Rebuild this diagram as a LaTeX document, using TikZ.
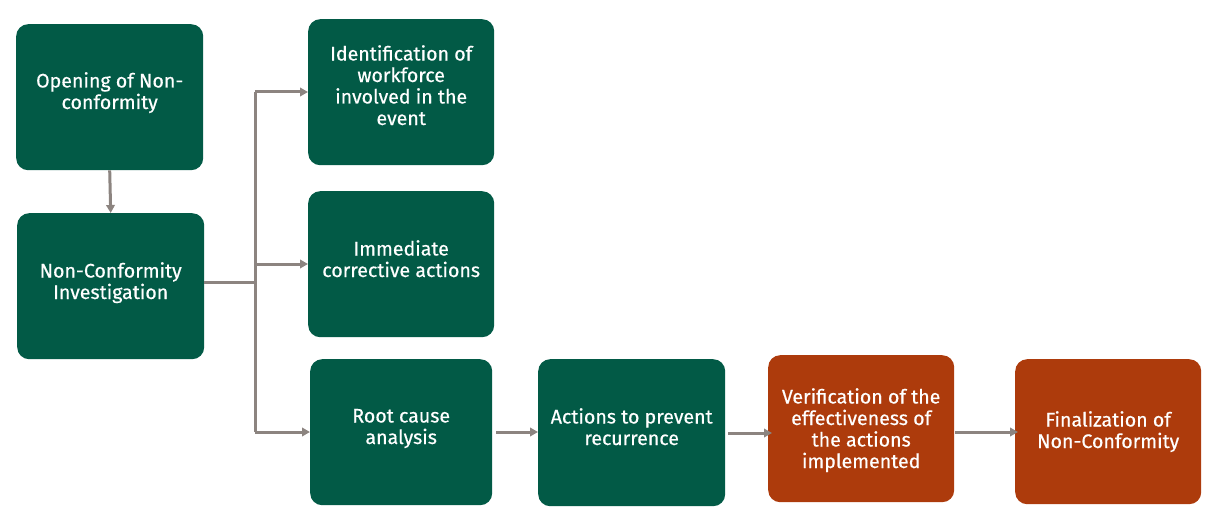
\documentclass[tikz,border=0pt]{standalone}
\usepackage{fontspec}
\setmainfont{Fira Sans}[FakeBold=0.5]
\usetikzlibrary{arrows.meta}
\definecolor{boxgreen}{HTML}{025A46}
\definecolor{boxorange}{HTML}{AD3B0C}
\definecolor{linegray}{HTML}{8C8480}
\newcommand\boxlines[1]{\parbox[b]{180pt}{\centering #1}}
\tikzset{
  txt/.style={text=white, inner sep=0pt, anchor=base,
    font=\fontsize{19.6}{21.5}\selectfont},
  gbox/.style={fill=boxgreen, draw=none, rounded corners=12pt, inner sep=0pt, anchor=north west},
  obox/.style={gbox, fill=boxorange},
  conn/.style={draw=linegray, line width=3pt, -{Triangle[length=8pt,width=8.5pt]}},
  plain/.style={draw=linegray, line width=3pt},
}
\begin{document}
\begin{tikzpicture}[x=1pt,y=-1pt]
\useasboundingbox (0,0) rectangle (1215,524);
% boxes
\node[gbox, minimum width=187pt, minimum height=146pt] (open) at (16,24) {};
\node[gbox, minimum width=187pt, minimum height=146pt] (inv) at (17,213) {};
\node[gbox, minimum width=186pt, minimum height=146pt] (ident) at (308,19) {};
\node[gbox, minimum width=186pt, minimum height=146pt] (imm) at (308,191) {};
\node[gbox, minimum width=182pt, minimum height=146pt] (root) at (310,359) {};
\node[gbox, minimum width=187pt, minimum height=147pt] (prev) at (538,359) {};
\node[obox, minimum width=186pt, minimum height=147pt] (verif) at (768,355) {};
\node[obox, minimum width=186pt, minimum height=145pt] (final) at (1015,359) {};
% texts (anchored at the baseline of their last line)
\node[txt] (open-t) at (open.center |- 0,109) {\boxlines{Opening of Non-\\conformity}};
\node[txt] (inv-t) at (inv.center |- 0,299) {\boxlines{Non-Conformity\\Investigation}};
\node[txt] (ident-t) at (ident.center |- 0,125) {\boxlines{Identification of\\workforce\\involved in the\\event}};
\node[txt] (imm-t) at (imm.center |- 0,277) {\boxlines{Immediate\\corrective actions}};
\node[txt] (root-t) at (root.center |- 0,444) {\boxlines{Root cause\\analysis}};
\node[txt] (prev-t) at (prev.center |- 0,445) {\boxlines{Actions to prevent\\recurrence}};
\node[txt] (verif-t) at (verif.center |- 0,468) {\boxlines{Verification of the\\effectiveness of\\the actions\\implemented}};
\node[txt] (final-t) at (final.center |- 0,448) {\boxlines{Finalization of\\Non-Conformity}};
% connectors
\coordinate (j) at (255,282);
\coordinate (jtop) at (255,92);
\coordinate (jmid) at (255,264);
\coordinate (jbot) at (255,432);
\draw[conn] (open.south) -- (inv.north);
\draw[plain] (inv.east |- j) -- (j);
\draw[plain] (jtop) -- (jbot);
\draw[conn] (jtop) -- (ident.west |- jtop);
\draw[conn] (jmid) -- (imm.west |- jmid);
\draw[conn] (jbot) -- (root.west |- jbot);
\draw[conn] ([xshift=4pt]root.east |- jbot) -- (prev.west |- jbot);
\draw[conn] ([xshift=3pt]prev.east |- 0,433) -- ([xshift=4pt]verif.west |- 0,433);
\draw[conn] ([xshift=1pt]verif.east |- jbot) -- ([xshift=3pt]final.west |- jbot);
\end{tikzpicture}
\end{document}
